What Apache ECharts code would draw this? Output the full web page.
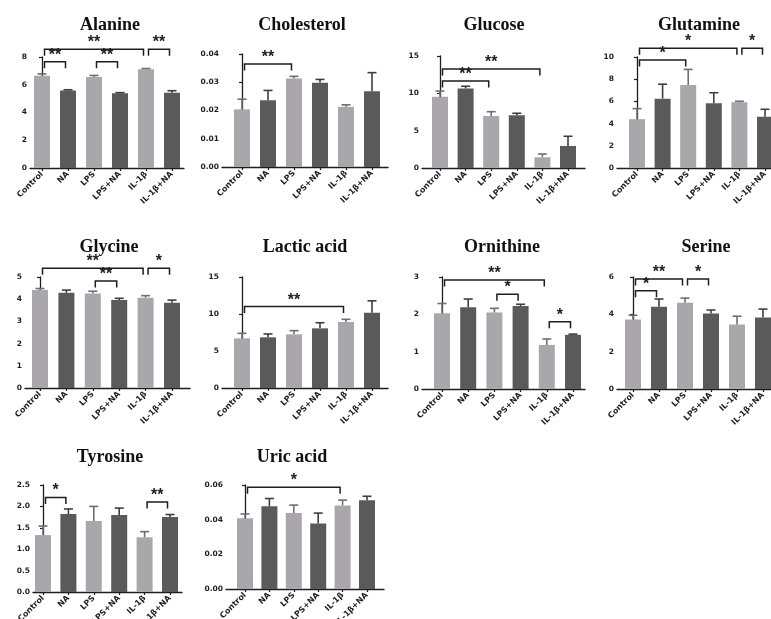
<!DOCTYPE html>
<html><head><meta charset="utf-8">
<script src="https://cdn.jsdelivr.net/npm/echarts@6/dist/echarts.min.js"></script>
<style>html,body{margin:0;padding:0;background:#fff}#c{width:771px;height:619px}</style>
</head><body><div id="c"></div>
<script>
const categories = ['Control','NA','LPS','LPS+NA','IL-1β','IL-1β+NA'];

const alanineMean = [6.65, 5.58, 6.55, 5.38, 7.12, 5.42];
const alanineSD   = [0.13, 0.06, 0.12, 0.05, 0.05, 0.15];
const alanineSig  = [[0,4,8.55,'**'],[4,5,8.55,'**'],[0,1,7.66,'**'],[2,3,7.66,'**']];

const cholesterolMean = [0.0204, 0.0236, 0.0313, 0.0298, 0.0213, 0.0268];
const cholesterolSD   = [0.0036, 0.0035, 0.0008, 0.0012, 0.0007, 0.0066];
const cholesterolSig  = [[0,2,0.0365,'**']];

const glucoseMean = [9.55, 10.65, 6.96, 7.08, 1.43, 2.95];
const glucoseSD   = [0.75, 0.30, 0.58, 0.25, 0.44, 1.30];
const glucoseSig  = [[0,4,13.26,'**'],[0,2,11.65,'**']];

const glutamineMean = [4.40, 6.25, 7.48, 5.83, 5.93, 4.62];
const glutamineSD   = [0.95, 1.30, 1.40, 0.95, 0.08, 0.67];
const glutamineSig  = [[0,4,10.78,'*'],[4,5,10.78,'*'],[0,2,9.73,'*']];

const glycineMean = [4.41, 4.29, 4.26, 3.96, 4.07, 3.84];
const glycineSD   = [0.07, 0.12, 0.10, 0.08, 0.09, 0.12];
const glycineSig  = [[0,4,5.39,'**'],[4,5,5.39,'*'],[2,3,4.82,'**']];

const lacticMean = [6.71, 6.85, 7.25, 8.06, 8.92, 10.18];
const lacticSD   = [0.68, 0.45, 0.50, 0.76, 0.36, 1.60];
const lacticSig  = [[0,4,11.0,'**']];

const ornithineMean = [2.03, 2.19, 2.05, 2.22, 1.18, 1.45];
const ornithineSD   = [0.26, 0.22, 0.11, 0.05, 0.16, 0.02];
const ornithineSig  = [[0,4,2.92,'**'],[2,3,2.54,'*'],[4,5,1.80,'*']];

const serineMean = [3.72, 4.40, 4.62, 4.05, 3.45, 3.83];
const serineSD   = [0.23, 0.42, 0.25, 0.18, 0.45, 0.45];
const serineSig  = [[0,2,5.89,'**'],[2,3,5.89,'*'],[0,1,5.27,'*']];

const tyrosineMean = [1.33, 1.82, 1.66, 1.80, 1.28, 1.75];
const tyrosineSD   = [0.21, 0.12, 0.34, 0.16, 0.13, 0.06];
const tyrosineSig  = [[0,1,2.21,'*'],[4,5,2.10,'**']];

const uricMean = [0.0408, 0.0478, 0.0438, 0.0378, 0.0482, 0.0512];
const uricSD   = [0.0025, 0.0044, 0.0046, 0.0060, 0.0031, 0.0023];
const uricSig  = [[0,4,0.0587,'*']];

// layout (pixels) per panel
const panels = [
  {name:'Alanine',     mean:alanineMean,     sd:alanineSD,     sig:alanineSig,     max:8,    itv:2,    dec:0, ax:30,  c0:42,  s:26,   xEnd:184, top:57,  bot:168, tx:110, ty:25},
  {name:'Cholesterol', mean:cholesterolMean, sd:cholesterolSD, sig:cholesterolSig, max:0.04, itv:0.01, dec:2, ax:222, c0:242, s:26,   xEnd:388, top:54,  bot:167, tx:302, ty:25},
  {name:'Glucose',     mean:glucoseMean,     sd:glucoseSD,     sig:glucoseSig,     max:15,   itv:5,    dec:0, ax:422, c0:440, s:25.6, xEnd:585, top:56,  bot:168, tx:494, ty:25},
  {name:'Glutamine',   mean:glutamineMean,   sd:glutamineSD,   sig:glutamineSig,   max:10,   itv:2,    dec:0, ax:617, c0:637, s:25.6, xEnd:790, top:57,  bot:168, tx:699, ty:25},
  {name:'Glycine',     mean:glycineMean,     sd:glycineSD,     sig:glycineSig,     max:5,    itv:1,    dec:0, ax:25,  c0:40,  s:26.4, xEnd:190, top:277, bot:388, tx:109, ty:247},
  {name:'Lactic acid', mean:lacticMean,      sd:lacticSD,      sig:lacticSig,      max:15,   itv:5,    dec:0, ax:222, c0:242, s:26,   xEnd:388, top:277, bot:388, tx:305, ty:247},
  {name:'Ornithine',   mean:ornithineMean,   sd:ornithineSD,   sig:ornithineSig,   max:3,    itv:1,    dec:0, ax:422, c0:442, s:26.2, xEnd:585, top:277, bot:389, tx:502, ty:247},
  {name:'Serine',      mean:serineMean,      sd:serineSD,      sig:serineSig,      max:6,    itv:2,    dec:0, ax:617, c0:633, s:26,   xEnd:790, top:277, bot:389, tx:706, ty:247},
  {name:'Tyrosine',    mean:tyrosineMean,    sd:tyrosineSD,    sig:tyrosineSig,    max:2.5,  itv:0.5,  dec:1, ax:33,  c0:43,  s:25.4, xEnd:182, top:485, bot:592, tx:110, ty:457},
  {name:'Uric acid',   mean:uricMean,        sd:uricSD,        sig:uricSig,        max:0.06, itv:0.02, dec:2, ax:226, c0:245, s:24.4, xEnd:384, top:485, bot:589, tx:292, ty:457}
];

const LIGHT = '#a9a7ac', DARK = '#5a5a5a', INK = '#1e1e1e';
const LABEL_FONT = '"DejaVu Sans", Verdana, sans-serif';
const idx = categories.map((c,i)=>i);

const grid=[], xAxis=[], yAxis=[], series=[], graphic=[];
panels.forEach((p,k)=>{
  grid.push({left:p.ax, top:p.top, width:p.xEnd-p.ax, height:p.bot-p.top, containLabel:false, outerBoundsMode:'none'});
  xAxis.push({
    type:'value', gridIndex:k, min:(p.ax-p.c0)/p.s, max:(p.xEnd-p.c0)/p.s,
    splitLine:{show:false},
    axisLine:{show:true, lineStyle:{color:INK, width:1.3}},
    axisTick:{show:true, customValues:idx, length:3, lineStyle:{color:INK, width:1.2}},
    axisLabel:{show:true, customValues:idx, rotate:45, margin:5, fontSize:8, fontWeight:'bold',
      fontFamily:LABEL_FONT, color:INK,
      formatter:v=>categories[Math.round(v)]}
  });
  yAxis.push({
    type:'value', gridIndex:k, min:0, max:p.max, interval:p.itv,
    splitLine:{show:false},
    axisLine:{show:true, lineStyle:{color:INK, width:1.3}},
    axisTick:{show:true, length:3, lineStyle:{color:INK, width:1.2}},
    axisLabel:{fontSize:7.5, fontWeight:'bold', margin:3, fontFamily:LABEL_FONT, color:INK,
      formatter:v=>Number(v).toFixed(p.dec)}
  });
  series.push({
    type:'bar', xAxisIndex:k, yAxisIndex:k, barWidth:16,
    data:p.mean.map((m,i)=>({value:[i,m], itemStyle:{color: i%2===0 ? LIGHT : DARK}})),
    silent:true, animation:false
  });
  series.push({
    type:'custom', xAxisIndex:k, yAxisIndex:k, clip:false, animation:false, silent:true, z:3,
    data:p.mean.map((m,i)=>[i,m,p.sd[i]]),
    renderItem:(params,api)=>{
      const i=api.value(0), m=api.value(1), e=api.value(2);
      const a=api.coord([i,m]), b=api.coord([i,m+e]);
      const col = i%2===0 ? '#6f6e72' : '#3e3e3e';
      return {type:'group', children:[
        {type:'line', shape:{x1:a[0],y1:a[1],x2:b[0],y2:b[1]}, style:{stroke:col, lineWidth:1.6}},
        {type:'line', shape:{x1:b[0]-4.5,y1:b[1],x2:b[0]+4.5,y2:b[1]}, style:{stroke:col, lineWidth:1.6}}
      ]};
    }
  });
  series.push({
    type:'custom', xAxisIndex:k, yAxisIndex:k, clip:false, animation:false, silent:true, z:4,
    data:p.sig.map(s=>[s[0],s[1],s[2]]),
    renderItem:(params,api)=>{
      const i0=api.value(0), i1=api.value(1), y=api.value(2);
      const lab = p.sig[params.dataIndex][3];
      const a=api.coord([i0,y]), b=api.coord([i1,y]);
      const x0=a[0]+2.5, x1=b[0]-2.5, yy=a[1], d=6.5;
      return {type:'group', children:[
        {type:'polyline', shape:{points:[[x0,yy+d],[x0,yy],[x1,yy],[x1,yy+d]]}, style:{stroke:INK, lineWidth:1.5, fill:null}},
        {type:'text', x:(x0+x1)/2, y:yy-6.5, style:{text:lab, textAlign:'center', textVerticalAlign:'middle',
          font:'bold 16px "Liberation Sans", Arial, sans-serif', fill:INK}}
      ]};
    }
  });
  graphic.push({type:'text', x:p.tx, y:p.ty, style:{text:p.name, textAlign:'center', textVerticalAlign:'middle',
    font:'bold 18px "Liberation Serif", "Times New Roman", serif', fill:'#111'}});
});

const chart = echarts.init(document.getElementById('c'), null, {renderer:'canvas'});
chart.setOption({animation:false, backgroundColor:'#fff', grid, xAxis, yAxis, series, graphic});
</script></body></html>
